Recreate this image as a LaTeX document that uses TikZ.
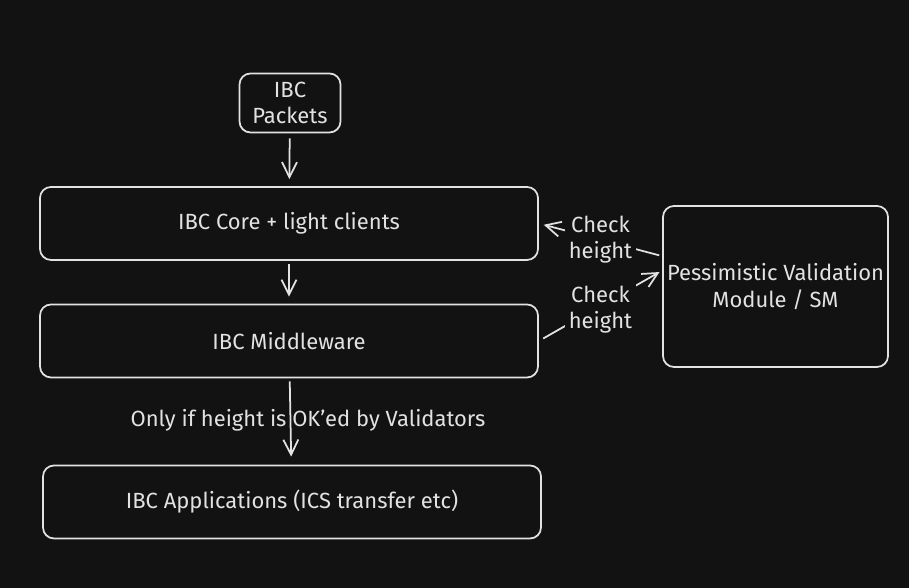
\documentclass[tikz,border=0pt]{standalone}
\usepackage{fontspec}
\setmainfont{Fira Sans}
\usepackage{xcolor}
\usepackage{tikz}
\usetikzlibrary{shapes,positioning,arrows.meta}
\definecolor{bg}{HTML}{121212}
\definecolor{ink}{HTML}{E2E2E2}
\tikzset{blk/.style={rectangle,rounded corners=0.22cm,draw=ink,line width=1pt,text=ink,align=center,inner sep=0.04cm,font=\fontsize{12.5}{15}\selectfont},
  lbl/.style={text=ink,align=center,font=\fontsize{12.5}{15}\selectfont,inner sep=0.08cm}}

\begin{document}
\begin{tikzpicture}[>={Straight Barb[length=0.3cm,width=0.3cm]}]
    \fill[bg] (0,0) rectangle (18.18,11.76);
    \useasboundingbox (0,0) rectangle (18.18,11.76);

    \node[blk,minimum width=2.02cm,minimum height=1.18cm] (pkt) at (5.80,9.70) {IBC\\Packets};
    \node[blk,minimum width=9.96cm,minimum height=1.46cm] (core) at (5.78,7.29) {IBC Core + light clients};
    \node[blk,minimum width=9.96cm,minimum height=1.46cm] (mid) at (5.78,4.94) {IBC Middleware};
    \node[blk,minimum width=9.96cm,minimum height=1.46cm] (app) at (5.84,1.72) {IBC Applications (ICS transfer etc)};
    \node[blk,minimum width=4.50cm,minimum height=3.22cm] (pvm) at (15.51,6.03) {Pessimistic Validation\\Module / SM};

    \draw [->,draw=ink,line width=1pt,shorten <=0.1cm,shorten >=0.14cm] (pkt) to []node[]{} (core);
    \draw [->,draw=ink,line width=1pt,shorten <=0.06cm,shorten >=0.14cm] (core) to []node[]{} (mid);
    \draw [->,draw=ink,line width=1pt,shorten <=0.06cm,shorten >=0.16cm] (mid) to []node[]{} (app);
    \node[lbl,inner sep=0.05cm] (ok) at (6.16,3.36) {Only if height is OK'ed by Validators};
    \draw [->,draw=ink,line width=1pt,shorten <=0.06cm,shorten >=0.1cm] (pvm.165) to []node[lbl,fill=bg]{Check\\height} (core.east);
    \draw [->,draw=ink,line width=1pt,shorten <=0.1cm,shorten >=0.06cm] (mid.east) to []node[lbl,fill=bg,yshift=-0.08cm]{Check\\height} (pvm.172);
\end{tikzpicture}
\end{document}
